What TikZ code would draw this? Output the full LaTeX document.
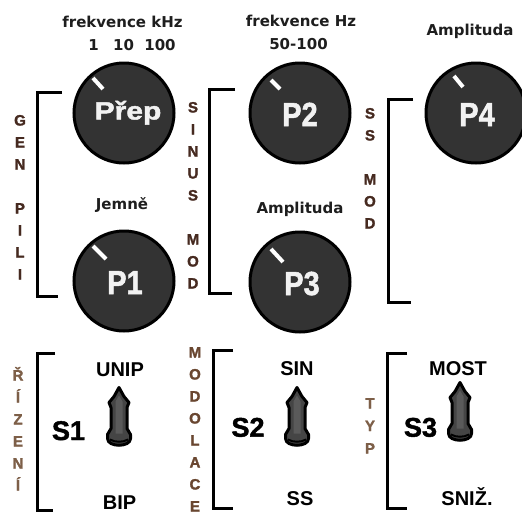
\documentclass[tikz,border=0pt]{standalone}
\usepackage{fontspec}
\setmainfont{Liberation Sans}
\newfontfamily\dvs{DejaVu Sans}
\newfontfamily\heavy{Liberation Sans}[BoldFeatures={FakeBold=1.6}]
\usetikzlibrary{calc}
\definecolor{knobfill}{HTML}{333333}
\definecolor{knobtext}{HTML}{F2F2F2}
\definecolor{labtext}{HTML}{1E1E1E}
\definecolor{vdark}{RGB}{70,42,32}
\definecolor{vmid}{RGB}{105,70,48}
\definecolor{vlight}{RGB}{125,95,72}
\definecolor{leverfill}{HTML}{454545}
\definecolor{leverhi}{HTML}{5A5A5A}
\begin{document}
\begin{tikzpicture}[x=1pt,y=-1pt,
  knob/.style={circle,draw=black,line width=3pt,fill=knobfill,minimum size=100pt,inner sep=0pt},
  knoblab/.style={anchor=base,text=knobtext,font=\heavy\fontsize{29}{29}\selectfont\bfseries,inner sep=0pt},
  ind/.style={draw=white,line width=4pt},
  toplab/.style={anchor=base,text=labtext,font=\dvs\fontsize{15}{15}\selectfont\bfseries,inner sep=0pt},
  swlab/.style={anchor=base,text=black,font=\fontsize{20}{20}\selectfont\bfseries,inner sep=0pt},
  slab/.style={anchor=base,text=black,font=\heavy\fontsize{27}{27}\selectfont\bfseries,inner sep=0pt},
  vlet/.style={anchor=base,font=\heavy\fontsize{15}{15}\selectfont\bfseries,inner sep=0pt},
  brk/.style={draw=black,line width=3pt},
  lever/.pic={
    \draw[line width=3pt,fill=leverfill,line join=round]
      (0,0) -- (5,9) -- (10,15) -- (8,20) -- (8,41) -- (11.5,47) -- (11.5,51)
      .. controls (11.5,60) and (-11.5,60) .. (-11.5,51) -- (-11.5,47)
      -- (-8,41) -- (-8,20) -- (-10,15) -- (-5,9) -- cycle;
    \fill[leverhi] (-3.5,14) -- (0,8) -- (3.5,14) -- (3.5,46) -- (-3.5,46) -- cycle;
    \draw[line width=2pt] (-9,52) .. controls (-4,55) and (4,55) .. (9,52);
  }
]
\clip (0,0) rectangle (522,512);
\fill[white] (0,0) rectangle (522,512);
\useasboundingbox (0,0) rectangle (522,512);

% brackets
\draw[brk] (62,92) -- (37,92) -- (37,296) -- (58,296);
\draw[brk] (235,89) -- (209,89) -- (209,293) -- (232,293);
\draw[brk] (413,99) -- (388,99) -- (388,302) -- (411,302);
\draw[brk] (55,353) -- (37,353) -- (37,510) -- (53,510);
\draw[brk] (233,350) -- (213,350) -- (213,508) -- (233,508);
\draw[brk] (407,353) -- (387,353) -- (387,508) -- (407,508);

% knobs
\node[knob] (kprep) at (124,113) {};
\node[knob] (k2) at (300,113) {};
\node[knob] (k4) at (476,113) {};
\node[knob] (k1) at (124,281) {};
\node[knob] (k3) at (300,282) {};

\draw[ind] ($(kprep)+(-31,-35)$) -- ($(kprep)+(-21,-24)$);
\draw[ind] ($(k2)+(-29,-33)$) -- ($(k2)+(-20,-24)$);
\draw[ind] ($(k4)+(-22,-37)$) -- ($(k4)+(-13,-26)$);
\draw[ind] ($(k1)+(-31,-35)$) -- ($(k1)+(-18,-22)$);
\draw[ind] ($(k3)+(-29,-33)$) -- ($(k3)+(-17,-20)$);

\node[knoblab,font=\heavy\fontsize{25}{25}\selectfont\bfseries] (tprep) at (128,119.5) {\scalebox{1.2}[1]{Přep}};
\node[knoblab] (t2) at (300,126) {\scalebox{1}[1.15]{P2}};
\node[knoblab] (t4) at (477,126) {\scalebox{1}[1.15]{P4}};
\node[knoblab] (t1) at (125,294) {\scalebox{1}[1.15]{P1}};
\node[knoblab] (t3) at (302,295) {\scalebox{1}[1.15]{P3}};

% top labels
\node[toplab] (fk) at (122.5,27) {frekvence kHz};
\node[toplab] (n1) at (93.5,50.7) {1};
\node[toplab] (n10) at (123.5,50.7) {10};
\node[toplab] (n100) at (160,50.7) {100};
\node[toplab] (fh) at (301,26) {frekvence Hz};
\node[toplab] (r50) at (298.5,49.3) {50-100};
\node[toplab] (amp4) at (470,35) {Amplituda};
\node[toplab] (jem) at (122,209) {Jemně};
\node[toplab] (amp3) at (300,213) {Amplituda};

% vertical letters
\foreach \l [count=\i from 0] in {G,E,N,{},P,I,L,I}
  \node[vlet,text=vdark] (gp\i) at (20,{125.5+22*\i}) {\l};
\foreach \l [count=\i from 0] in {S,I,N,U,S,{},M,O,D}
  \node[vlet,text=vdark] (sm\i) at (193,{112.5+22*\i}) {\l};
\foreach \l [count=\i from 0] in {S,S,{},M,O,D}
  \node[vlet,text=vdark] (ss\i) at (370,{118.5+22*\i}) {\l};
\foreach \l [count=\i from 0] in {Ř,Í,Z,E,N,Í}
  \node[vlet,text=vlight] (rz\i) at (18,{380.5+22*\i}) {\l};
\foreach \l [count=\i from 0] in {M,O,D,O,L,A,C,E}
  \node[vlet,text=vmid] (md\i) at (195,{357.5+22*\i}) {\l};
\foreach \l [count=\i from 0] in {T,Y,P}
  \node[vlet,text=vlight] (ty\i) at (370,{408.5+22.5*\i}) {\l};

% switches
\pic (lev1) at (119,387.5) {lever};
\pic (lev2) at (297,387.5) {lever};
\pic (lev3) at (460,382.5) {lever};

\node[swlab] (unip) at (120,376.7) {UNIP};
\node[swlab] (bip) at (119.5,509) {BIP};
\node[swlab] (sin) at (297,375.7) {SIN};
\node[swlab] (ss) at (300,505.7) {SS};
\node[swlab] (most) at (458,375.7) {MOST};
\node[swlab] (sniz) at (467,505) {SNIŽ.};

\node[slab] (s1) at (68.5,440) {S1};
\node[slab] (s2) at (248,436.7) {S2};
\node[slab] (s3) at (420.5,436.7) {S3};
\end{tikzpicture}
\end{document}
